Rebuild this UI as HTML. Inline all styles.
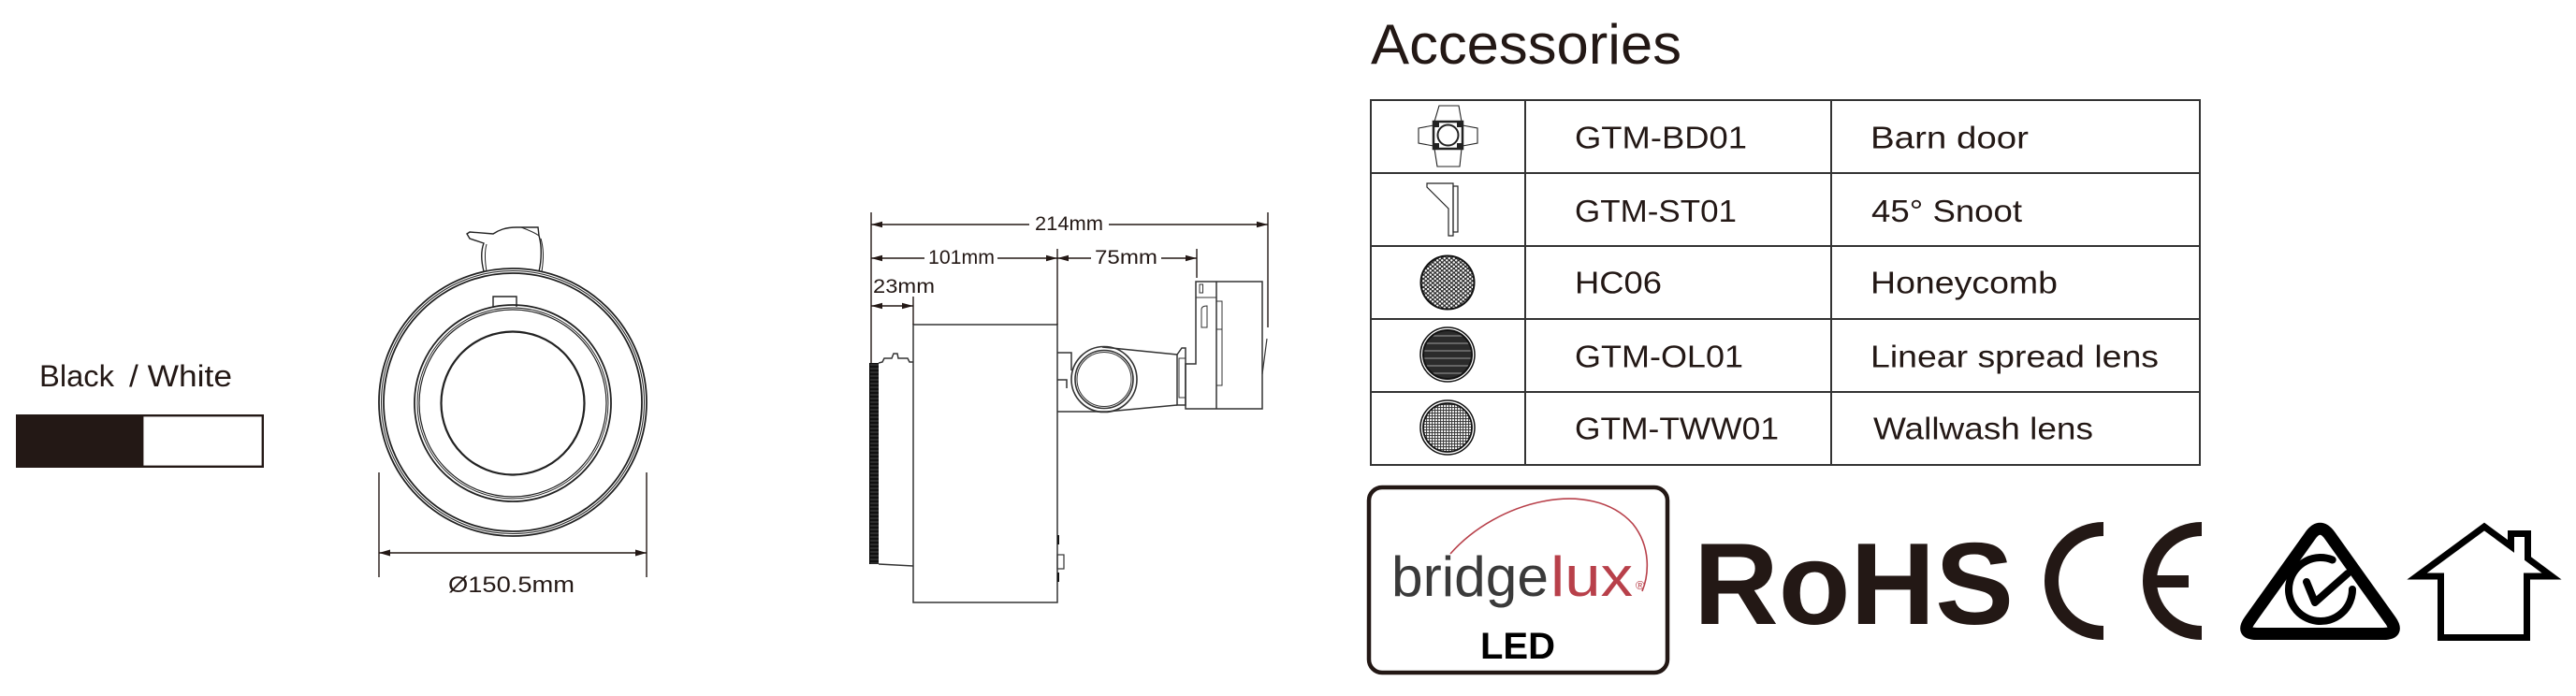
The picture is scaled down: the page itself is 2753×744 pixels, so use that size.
<!DOCTYPE html>
<html>
<head>
<meta charset="utf-8">
<style>
html,body{margin:0;padding:0;background:#fff;}
body{width:2753px;height:744px;overflow:hidden;}
svg{display:block;}
text{font-family:"Liberation Sans",sans-serif;fill:#231815;}
</style>
</head>
<body>
<svg width="2753" height="744" viewBox="0 0 2753 744" xmlns="http://www.w3.org/2000/svg">
<defs>
  <pattern id="hatch" width="12" height="4" patternUnits="userSpaceOnUse">
    <rect width="12" height="4" fill="#111"/>
    <line x1="0" y1="2" x2="12" y2="2" stroke="#555" stroke-width="0.8"/>
  </pattern>
  <pattern id="hc" width="5" height="4.4" patternUnits="userSpaceOnUse">
    <rect width="5" height="4.4" fill="#2a2a2a"/>
    <circle cx="1.25" cy="1.1" r="1.2" fill="#fff"/>
    <circle cx="3.75" cy="3.3" r="1.2" fill="#fff"/>
  </pattern>
  <pattern id="ol" width="10" height="8" patternUnits="userSpaceOnUse">
    <rect width="10" height="8" fill="#2b2b2b"/>
    <line x1="0" y1="7" x2="10" y2="7" stroke="#8a8a8a" stroke-width="1.2"/>
  </pattern>
  <pattern id="tw" width="3" height="3" patternUnits="userSpaceOnUse">
    <rect width="3" height="3" fill="#fff"/>
    <line x1="0" y1="0.6" x2="3" y2="0.6" stroke="#333" stroke-width="1"/>
    <line x1="0.6" y1="0" x2="0.6" y2="3" stroke="#333" stroke-width="1"/>
  </pattern>
</defs>

<!-- Black / White swatch -->
<text x="42" y="413" font-size="32" textLength="80" lengthAdjust="spacingAndGlyphs">Black</text>
<text x="138" y="413" font-size="32" textLength="110" lengthAdjust="spacingAndGlyphs">/ White</text>
<rect x="17" y="443" width="135" height="57" fill="#231815"/>
<rect x="152.2" y="444.2" width="128.6" height="54.6" fill="#fff" stroke="#231815" stroke-width="2.4"/>

<!-- Front view -->
<g fill="none" stroke="#222">
  <circle cx="548" cy="430" r="143" stroke-width="1.8"/>
  <circle cx="548" cy="430" r="140.5" stroke-width="1"/>
  <circle cx="548" cy="430" r="138" stroke-width="1.8"/>
  <circle cx="548" cy="431" r="105" stroke-width="1.8"/>
  <circle cx="548" cy="431" r="102" stroke-width="0.9"/>
  <circle cx="548" cy="431" r="100" stroke-width="1.2"/>
  <circle cx="548" cy="431" r="76.5" stroke-width="2.2"/>
  <path d="M527,328 L527,317 L552,317 L552,328" stroke-width="1.4"/>
  <path d="M517,290 C514,278 514,268 517,260 L502,255 L499,250 L502,248 L527,250 C533,246 540,243 552,243 L575,243 L576,252 C579,262 579,278 576,290" stroke-width="1.4"/>
  <path d="M520,290 C518,278 518,268 520,261" stroke-width="1"/>
  <path d="M579,290 C581,278 581,265 578,255" stroke-width="1"/>
  <path d="M557,243 C565,246 572,249 576,252" stroke-width="1"/>
</g>
<!-- front dimension -->
<g stroke="#231815" stroke-width="1.4">
  <line x1="405" y1="505" x2="405" y2="617"/>
  <line x1="691" y1="505" x2="691" y2="617"/>
  <line x1="405" y1="591" x2="691" y2="591"/>
</g>
<g fill="#231815">
  <polygon points="405,591 417,587.5 417,594.5"/>
  <polygon points="691,591 679,587.5 679,594.5"/>
</g>
<text x="479" y="633" font-size="24" textLength="135" lengthAdjust="spacingAndGlyphs">Ø150.5mm</text>

<!-- Side view -->
<g fill="none" stroke="#333" stroke-width="1.5">
  <path d="M939,388 L943,387 L945,383 L953,383 L955,378 L959,378 L960,383 L970,383 L972,387 L976,387"/>
  <line x1="939" y1="603" x2="976" y2="605"/>
  <rect x="976" y="347" width="154" height="297"/>
  <rect x="1130" y="593" width="7" height="15" stroke-width="1.2"/>
  <path d="M1130,377 L1145,377 L1145,396"/>
  <path d="M1130,406 L1140,406 L1140,415"/>
  <line x1="1130" y1="440" x2="1183" y2="440"/>
  <circle cx="1180" cy="405.5" r="35" stroke-width="1.6"/>
  <circle cx="1180" cy="405.5" r="31" stroke-width="1.6"/>
  <circle cx="1180" cy="405.5" r="29" stroke-width="1"/>
  <line x1="1178" y1="371" x2="1258" y2="379" stroke-width="1.6"/>
  <line x1="1183" y1="440" x2="1258" y2="433" stroke-width="1.6"/>
  <path d="M1258,379 L1258,433 L1267,433 L1267,372 L1263,372 L1258,379"/>
  <rect x="1260" y="383" width="7" height="42" stroke-width="1"/>
  <path d="M1278,301 L1349,301 L1349,437 L1267,437 L1267,389 L1278,389 Z"/>
  <line x1="1300" y1="301" x2="1300" y2="437"/>
  <line x1="1278" y1="318" x2="1300" y2="318" stroke-width="1"/>
  <rect x="1282" y="304" width="3.5" height="9" stroke-width="1"/>
  <path d="M1284,350 L1284,331 Q1284,327 1290,327 L1290,350 Z" stroke-width="1"/>
  <path d="M1300,322 L1306,322 L1306,412 L1300,412" stroke-width="1"/>
  <line x1="1300" y1="352" x2="1306" y2="352" stroke-width="1"/>
  <line x1="1354" y1="362" x2="1349" y2="400" stroke-width="1.2"/>
</g>
<rect x="929" y="388" width="10" height="215" fill="url(#hatch)"/>
<line x1="929.5" y1="388" x2="929.5" y2="603" stroke="#000" stroke-width="1"/>
<g stroke="#111" stroke-width="2">
  <line x1="1131" y1="572" x2="1131" y2="582"/>
  <line x1="1131" y1="612" x2="1131" y2="622"/>
</g>

<!-- side dimensions -->
<g stroke="#231815" stroke-width="1.4">
  <line x1="931" y1="227" x2="931" y2="388"/>
  <line x1="1355" y1="227" x2="1355" y2="350"/>
  <line x1="1130" y1="266" x2="1130" y2="347"/>
  <line x1="1279" y1="266" x2="1279" y2="297"/>
  <line x1="976" y1="317" x2="976" y2="347"/>
  <line x1="931" y1="240" x2="1100" y2="240"/>
  <line x1="1185" y1="240" x2="1355" y2="240"/>
  <line x1="931" y1="276" x2="988" y2="276"/>
  <line x1="1066" y1="276" x2="1166" y2="276"/>
  <line x1="1241" y1="276" x2="1279" y2="276"/>
  <line x1="931" y1="327" x2="976" y2="327"/>
</g>
<g fill="#231815">
  <polygon points="931,240 943,236.8 943,243.2"/>
  <polygon points="1355,240 1343,236.8 1343,243.2"/>
  <polygon points="931,276 943,272.8 943,279.2"/>
  <polygon points="1130,276 1118,272.8 1118,279.2"/>
  <polygon points="1130,276 1142,272.8 1142,279.2"/>
  <polygon points="1279,276 1267,272.8 1267,279.2"/>
  <polygon points="931,327 943,323.8 943,330.2"/>
  <polygon points="976,327 964,323.8 964,330.2"/>
</g>
<text x="1106" y="246" font-size="21" textLength="73" lengthAdjust="spacingAndGlyphs">214mm</text>
<text x="992" y="282" font-size="21" textLength="71" lengthAdjust="spacingAndGlyphs">101mm</text>
<text x="1170" y="282" font-size="21" textLength="67" lengthAdjust="spacingAndGlyphs">75mm</text>
<text x="933" y="313" font-size="21" textLength="66" lengthAdjust="spacingAndGlyphs">23mm</text>

<!-- Accessories -->
<text x="1465" y="68" font-size="60" textLength="332" lengthAdjust="spacingAndGlyphs">Accessories</text>
<g stroke="#333" stroke-width="2" fill="none">
  <rect x="1465" y="107" width="886" height="390"/>
  <line x1="1630" y1="107" x2="1630" y2="497"/>
  <line x1="1957" y1="107" x2="1957" y2="497"/>
  <line x1="1465" y1="185" x2="2351" y2="185"/>
  <line x1="1465" y1="263" x2="2351" y2="263"/>
  <line x1="1465" y1="341" x2="2351" y2="341"/>
  <line x1="1465" y1="419" x2="2351" y2="419"/>
</g>
<g font-size="33">
  <text x="1683" y="158.5" textLength="184" lengthAdjust="spacingAndGlyphs">GTM-BD01</text>
  <text x="1683" y="237" textLength="173" lengthAdjust="spacingAndGlyphs">GTM-ST01</text>
  <text x="1683" y="313.5" textLength="93" lengthAdjust="spacingAndGlyphs">HC06</text>
  <text x="1683" y="392.5" textLength="180" lengthAdjust="spacingAndGlyphs">GTM-OL01</text>
  <text x="1683" y="469.5" textLength="218" lengthAdjust="spacingAndGlyphs">GTM-TWW01</text>
  <text x="1999" y="158.5" textLength="169" lengthAdjust="spacingAndGlyphs">Barn door</text>
  <text x="2000" y="237" textLength="161" lengthAdjust="spacingAndGlyphs">45° Snoot</text>
  <text x="1999" y="313.5" textLength="200" lengthAdjust="spacingAndGlyphs">Honeycomb</text>
  <text x="1999" y="392.5" textLength="308" lengthAdjust="spacingAndGlyphs">Linear spread lens</text>
  <text x="2002" y="469.5" textLength="235" lengthAdjust="spacingAndGlyphs">Wallwash lens</text>
</g>

<!-- barn door icon -->
<g fill="#fff" stroke="#222" stroke-width="1.1">
  <polygon points="1538,113 1559,113 1562,130 1533,130"/>
  <polygon points="1533,159 1562,159 1560,178 1536,178"/>
  <polygon points="1516,137 1532,134 1532,156 1516,153"/>
  <polygon points="1563,134 1579,137 1579,153 1563,156"/>
  <rect x="1532" y="130" width="31" height="29" fill="#fff" stroke-width="2.5"/>
  <circle cx="1547.5" cy="144.5" r="11" fill="#fff" stroke="#222" stroke-width="2"/>
</g>
<g fill="#222">
  <rect x="1532" y="130" width="6" height="6"/>
  <rect x="1557" y="130" width="6" height="6"/>
  <rect x="1532" y="153" width="6" height="6"/>
  <rect x="1557" y="153" width="6" height="6"/>
</g>
<!-- snoot icon -->
<g fill="none" stroke="#222" stroke-width="1.2">
  <path d="M1525,196 L1553,196 L1553,252 L1548,252 L1548,223 L1525,200 Z"/>
  <rect x="1553" y="199" width="5" height="49"/>
</g>
<!-- honeycomb -->
<circle cx="1547" cy="302" r="28.5" fill="url(#hc)" stroke="#111" stroke-width="2"/>
<!-- OL01 -->
<circle cx="1547" cy="379" r="29" fill="#fff" stroke="#111" stroke-width="1.5"/>
<circle cx="1547" cy="379" r="26" fill="url(#ol)" stroke="#111" stroke-width="2"/>
<!-- TWW01 -->
<circle cx="1547" cy="457" r="29" fill="#fff" stroke="#111" stroke-width="1.5"/>
<circle cx="1547" cy="457" r="26" fill="url(#tw)" stroke="#111" stroke-width="1.8"/>

<!-- Bridgelux logo -->
<rect x="1463" y="521" width="319" height="198" rx="14" ry="14" fill="#fff" stroke="#231815" stroke-width="4.5"/>
<path d="M1550,592 C1600,535 1700,510 1745,560 C1765,585 1762,615 1755,632" fill="none" stroke="#b8404a" stroke-width="1.6"/>
<text x="1487" y="637" font-size="60" textLength="168" lengthAdjust="spacingAndGlyphs" style="fill:#3a3a3a">bridge</text>
<text x="1657" y="637" font-size="60" textLength="88" lengthAdjust="spacingAndGlyphs" style="fill:#b8404a">lux</text>
<text x="1748" y="630" font-size="13" style="fill:#b8404a">®</text>
<text x="1582" y="704" font-size="40" font-weight="bold" textLength="80" lengthAdjust="spacingAndGlyphs" style="fill:#000">LED</text>

<!-- RoHS -->
<text x="1810" y="667" font-size="124" font-weight="bold" textLength="342" lengthAdjust="spacingAndGlyphs">RoHS</text>

<!-- CE -->
<g fill="none" stroke="#231815" stroke-width="15">
  <path d="M2248,565.5 A55.5,55.5 0 0 0 2248,676.5"/>
  <path d="M2353,565.5 A55.5,55.5 0 0 0 2353,676.5"/>
</g>
<rect x="2305" y="615" width="34" height="13" fill="#231815"/>

<!-- RCM -->
<g fill="none" stroke="#000">
  <path d="M2469,572.6 Q2479.5,558 2490,572.6 L2554.5,662.9 Q2565,677.5 2547,677.5 L2412,677.5 Q2394,677.5 2404.5,662.9 Z" stroke-width="13" stroke-linejoin="round"/>
  <path d="M2492.7,598.5 A34,34 0 1 0 2514,630" stroke-width="8" stroke-linecap="round"/>
  <polyline points="2465,622 2474,644 2509,613" stroke-width="8" stroke-linecap="round" stroke-linejoin="round"/>
</g>

<!-- House -->
<path d="M2608.5,681.5 L2608.5,616 L2583,616 L2655,563 L2683.5,584 L2683.5,570.5 L2701.5,570.5 L2701.5,597 L2727,616 L2700.5,616 L2700.5,681.5 Z" fill="none" stroke="#000" stroke-width="7" stroke-linejoin="miter"/>
</svg>
</body>
</html>
